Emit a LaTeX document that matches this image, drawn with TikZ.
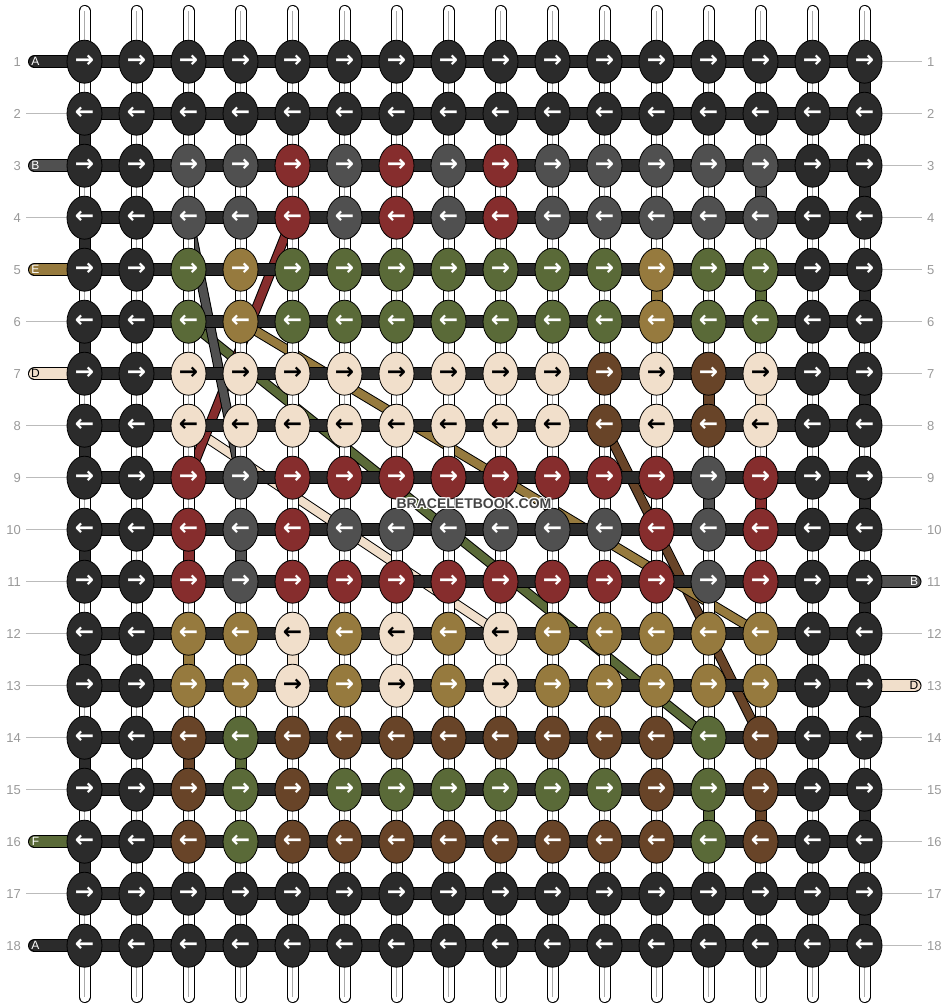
\documentclass[tikz,border=0pt]{standalone}
\usepackage{fontspec}
\setmainfont{Liberation Sans}
\newfontfamily\arrowfont{DejaVu Sans}
\usetikzlibrary{shapes.geometric}
\definecolor{cK}{HTML}{2B2B2B}
\definecolor{cG}{HTML}{505050}
\definecolor{cR}{HTML}{862D2D}
\definecolor{cO}{HTML}{5A6A38}
\definecolor{cT}{HTML}{967A3E}
\definecolor{cP}{HTML}{F1DFCB}
\definecolor{cN}{HTML}{684428}
\definecolor{cGuide}{HTML}{BBBBBB}
\definecolor{cNum}{HTML}{999999}
\definecolor{cThread}{HTML}{AAAAAA}
\definecolor{cWm}{HTML}{444444}
\pgfdeclarelayer{background}
\pgfsetlayers{background,main}
\begin{document}
\begin{tikzpicture}[x=1pt,y=-1pt,
    knot/.style={ellipse,draw=black,line width=0.8pt,minimum width=35pt,
      minimum height=43pt,inner sep=0pt,
      font=\arrowfont\bfseries\fontsize{23}{23}\selectfont},
    kK/.style={knot,fill=cK,text=white},
    kG/.style={knot,fill=cG,text=white},
    kR/.style={knot,fill=cR,text=white},
    kO/.style={knot,fill=cO,text=white},
    kT/.style={knot,fill=cT,text=white},
    kP/.style={knot,fill=cP,text=black},
    kN/.style={knot,fill=cN,text=white},
    bar/.style={draw=black,line width=1pt,double=#1,double distance=11pt},
    bar/.default=cK,
    seg/.style={draw=black,line width=1pt,double=#1,double distance=10pt},
    strand/.style={draw=black,line width=1pt,double=#1,double distance=8pt},
    warp/.style={draw=black,line width=1pt,double=white,double distance=10pt,
      line cap=round},
    warpline/.style={draw=cThread,line width=0.8pt},
    guide/.style={draw=cGuide,line width=1pt},
    rownum/.style={text=cNum,font=\fontsize{13}{13}\selectfont,inner sep=0pt},
    tag/.style={font=\fontsize{12}{12}\selectfont,inner sep=0pt},
    wmark/.style={font=\bfseries\fontsize{14}{14}\selectfont,inner sep=0pt}]
  \useasboundingbox (0,0) rectangle (948,1008);
  \foreach \r/\row in {
      1/{K,K,K,K,K,K,K,K,K,K,K,K,K,K,K,K},
      2/{K,K,K,K,K,K,K,K,K,K,K,K,K,K,K,K},
      3/{K,K,G,G,R,G,R,G,R,G,G,G,G,G,K,K},
      4/{K,K,G,G,R,G,R,G,R,G,G,G,G,G,K,K},
      5/{K,K,O,T,O,O,O,O,O,O,O,T,O,O,K,K},
      6/{K,K,O,T,O,O,O,O,O,O,O,T,O,O,K,K},
      7/{K,K,P,P,P,P,P,P,P,P,N,P,N,P,K,K},
      8/{K,K,P,P,P,P,P,P,P,P,N,P,N,P,K,K},
      9/{K,K,R,G,R,R,R,R,R,R,R,R,G,R,K,K},
      10/{K,K,R,G,R,G,G,G,G,G,G,R,G,R,K,K},
      11/{K,K,R,G,R,R,R,R,R,R,R,R,G,R,K,K},
      12/{K,K,T,T,P,T,P,T,P,T,T,T,T,T,K,K},
      13/{K,K,T,T,P,T,P,T,P,T,T,T,T,T,K,K},
      14/{K,K,N,O,N,N,N,N,N,N,N,N,O,N,K,K},
      15/{K,K,N,O,N,O,O,O,O,O,O,N,O,N,K,K},
      16/{K,K,N,O,N,N,N,N,N,N,N,N,O,N,K,K},
      17/{K,K,K,K,K,K,K,K,K,K,K,K,K,K,K,K},
      18/{K,K,K,K,K,K,K,K,K,K,K,K,K,K,K,K}}
    \foreach \k [count=\c] in \row
      \node[k\k] (\r-\c) at ({84.5+52*(\c-1)},{61.7+52*(\r-1)})
        {\ifodd\r →\else ←\fi};
  \foreach \r in {1,...,18} {
    \node[rownum,anchor=east] (nl-\r) at (21,{61.7+52*(\r-1)}) {\r};
    \node[rownum,anchor=west] (nr-\r) at (927,{61.7+52*(\r-1)}) {\r};
  }
  \begin{pgfonlayer}{background}
    \draw[strand=cN] (8-11.center) -- (14-14.center);
    \draw[strand=cT] (6-4.center) -- (12-14.center);
    \draw[strand=cP] (8-3.center) -- (12-9.center);
    \draw[strand=cO] (6-3.center) -- (14-13.center);
    \draw[strand=cR] (4-5.center) -- (9-3.center);
    \draw[strand=cG] (4-3.center) -- (9-4.center);
    \foreach \c in {1,...,16} {
      \coordinate (t-\c) at ({84.5+52*(\c-1)},11);
      \coordinate (b-\c) at ({84.5+52*(\c-1)},997);
      \draw[warp] (t-\c) -- (b-\c);
      \draw[warpline] (t-\c) -- (b-\c);
    }
    \foreach \r in {2,4,...,16} {
      \pgfmathtruncatemacro\s{\r+1}
      \draw[seg=cK] (\r-1.center) -- (\s-1.center);
    }
    \foreach \r in {1,3,...,17} {
      \pgfmathtruncatemacro\s{\r+1}
      \draw[seg=cK] (\r-16.center) -- (\s-16.center);
    }
    \foreach \r/\c/\k in {3/14/G,5/12/T,5/14/O,7/13/N,7/14/P,9/13/G,9/14/R,
        10/3/R,10/4/G,12/3/T,12/5/P,14/3/N,14/4/O,15/13/O,15/14/N} {
      \pgfmathtruncatemacro\s{\r+1}
      \draw[seg=c\k] (\r-\c.center) -- (\s-\c.center);
    }
    \foreach \r in {1,...,18}
      \draw[bar] (\r-1.center) -- (\r-16.center);
    \foreach \r/\k/\l/\t in {1/K/A/white,3/G/B/white,5/T/E/white,
        7/P/D/black,16/O/F/white,18/K/A/white} {
      \coordinate (L-\r) at (34.5,{61.7+52*(\r-1)});
      \draw[bar=c\k,line cap=round] (L-\r) -- (\r-1.center);
      \node[tag,text=\t] (tl-\r) at (35.5,{61.7+52*(\r-1)}) {\l};
    }
    \foreach \r/\k/\l/\t in {11/G/B/white,13/P/D/black} {
      \coordinate (R-\r) at (915,{61.7+52*(\r-1)});
      \draw[bar=c\k,line cap=round] (\r-16.center) -- (R-\r);
      \node[tag,text=\t] (tr-\r) at (914,{61.7+52*(\r-1)}) {\l};
    }
    \foreach \r in {2,4,6,8,9,10,11,12,13,14,15,17} {
      \coordinate (gl-\r) at (26,{61.7+52*(\r-1)});
      \draw[guide] (gl-\r) -- (\r-1);
    }
    \foreach \r in {1,2,3,4,5,6,7,8,9,10,12,14,15,16,17,18} {
      \coordinate (gr-\r) at (922,{61.7+52*(\r-1)});
      \draw[guide] (\r-16) -- (gr-\r);
    }
  \end{pgfonlayer}
  \foreach \dx/\dy [count=\i] in {-1/0,1/0,0/-1,0/1,-1/-1,1/1,-1/1,1/-1}
    \node[wmark,text=white] (halo\i) at ({474+\dx},{503.5+\dy}) {BRACELETBOOK.COM};
  \node[wmark,text=cWm] (wm) at (474,503.5) {BRACELETBOOK.COM};
\end{tikzpicture}
\end{document}
